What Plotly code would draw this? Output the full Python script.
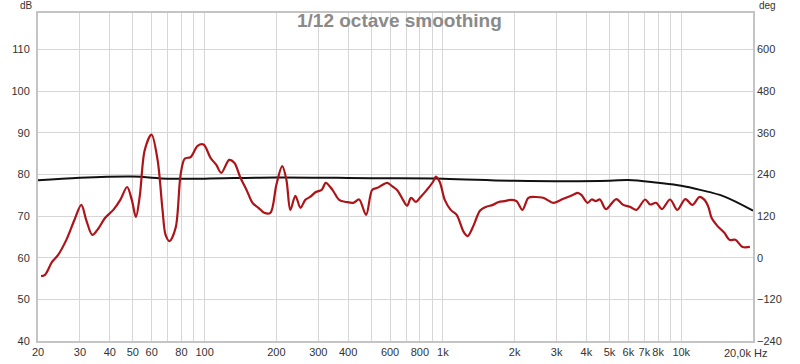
import plotly.graph_objects as go

# Red magnitude curve (Hz, dB)
freq_mag = [20.6, 21.4, 22.9, 24.3, 26.3, 28.4, 30.4, 31.9, 33.8, 35.5, 38.3, 41.4, 44.3, 47.3,
            49.5, 51.5, 53.5, 56.1, 59.9, 63.5, 66.6, 68.6, 71.3, 75.6, 79.3, 82.5, 87.4, 93.5,
            99, 105.9, 112, 117.5, 126.9, 133.3, 141.4, 150, 158.9, 168.3, 177.9, 188.9, 200,
            211.7, 220.5, 229, 240.5, 252.5, 264.6, 277, 293, 310, 322.6, 344, 367, 393, 421,
            445, 476, 505, 531, 557, 584, 612, 642, 680, 708, 735, 771, 801, 856, 908, 934, 970,
            1018, 1078, 1142, 1222, 1270, 1348, 1430, 1514, 1619, 1715, 1816, 1923, 2036, 2156,
            2284, 2441, 2633, 2918, 3183, 3508, 3682, 3810, 4046, 4210, 4380, 4558, 4830, 5335,
            5712, 6117, 6490, 7050, 7400, 7840, 8300, 8975, 9630, 10400, 11140, 11920, 12520,
            13000, 13400, 14200, 15170, 15930, 16880, 18080, 19400]
mag_db = [55.6, 55.9, 59.0, 60.7, 64.3, 69.0, 72.7, 69.0, 65.5, 66.7, 69.6, 71.5, 73.9, 77.0,
          73.9, 69.8, 75.0, 85.9, 89.6, 83.5, 71.5, 65.5, 64.0, 67.2, 79.9, 83.8, 84.2, 86.9,
          87.2, 84.0, 82.3, 80.4, 83.5, 82.8, 79.2, 76.3, 73.2, 72.0, 70.8, 70.8, 77.5,
          82.0, 78.7, 71.5, 74.9, 72.0, 73.9, 74.6, 75.8, 76.3, 78.0, 76.3, 73.9, 73.4, 73.2,
          74.0, 70.3, 76.3, 76.8, 77.5, 78.0, 77.2, 76.3, 73.9, 72.5, 74.4, 73.4, 74.4, 76.3,
          78.2, 79.5, 78.2, 73.9, 71.5, 70.3, 66.2, 65.2, 67.9, 71.3, 72.2, 72.7, 73.4, 73.6,
          73.9, 73.6, 71.5, 74.4, 74.6, 74.4, 73.2, 74.1, 75.1, 75.6, 75.1, 73.2, 74.0, 73.6,
          74.0, 71.7, 74.1, 72.7, 72.2, 71.5, 74.0, 72.8, 73.2, 71.7, 74.0, 71.5, 74.1, 72.7,
          74.6, 73.9, 72.2, 69.6, 67.6, 66.0, 64.3, 64.3, 62.6, 62.6]

# Black curve (Hz, dB)
freq_ref = [20, 30, 50, 70, 100, 200, 500, 1000, 2000, 5000, 6000, 8000, 10000, 12000,
            15000, 20000]
ref_db = [78.6, 79.2, 79.5, 79.0, 79.0, 79.3, 79.1, 79.0, 78.5, 78.5, 78.7, 78.0, 77.3, 76.3,
          74.8, 71.3]

# Axis ticks
x_grid = [20, 30, 40, 50, 60, 70, 80, 90, 100, 200, 300, 400, 500, 600, 700, 800, 900,
          1000, 2000, 3000, 4000, 5000, 6000, 7000, 8000, 9000, 10000, 20000]
x_labels = ["20", "30", "40", "50", "60", "", "80", "", "100", "200", "300", "400", "",
            "600", "", "800", "", "1k", "2k", "3k", "4k", "5k", "6k", "7k", "8k", "", "10k",
            ""]
x_end_label = "20,0k Hz"
db_ticks = [40, 50, 60, 70, 80, 90, 100, 110]
deg_ticks = [-240, -120, 0, 120, 240, 360, 480, 600]

db_range = [40, 118.8]
deg_range = [(db_range[0] - 60) * 12, (db_range[1] - 60) * 12]

fig = go.Figure()
fig.add_trace(go.Scatter(x=freq_ref, y=ref_db, mode="lines",
                         line=dict(color="#111111", width=2, shape="spline"),
                         showlegend=False))
fig.add_trace(go.Scatter(x=freq_mag, y=mag_db, mode="lines",
                         line=dict(color="#ad1419", width=2.2, shape="spline", smoothing=0.9),
                         showlegend=False))
fig.add_trace(go.Scatter(x=[20], y=[0], yaxis="y2", mode="markers",
                         marker=dict(opacity=0), showlegend=False, hoverinfo="skip"))

axis_font = dict(family="Liberation Sans, Arial, sans-serif", size=11, color="#333333")

fig.update_layout(
    width=800, height=364,
    margin=dict(l=38, r=47, t=13, b=23, pad=0, autoexpand=False),
    paper_bgcolor="white", plot_bgcolor="white",
    font=axis_font,
    xaxis=dict(type="log", range=[1.30103, 4.30103], tickvals=x_grid, ticktext=x_labels,
               tickangle=0, automargin=False,
               showgrid=True, gridcolor="#d6d6d6", gridwidth=1,
               showline=True, linecolor="#c4c4c4", linewidth=2, mirror=True,
               ticks="", ticklen=0, tickfont=axis_font, zeroline=False),
    yaxis=dict(range=db_range, tickvals=db_ticks, showgrid=True, gridcolor="#d6d6d6",
               gridwidth=1, showline=True, linecolor="#c4c4c4", linewidth=2, mirror=True,
               ticks="", tickfont=axis_font, zeroline=False, ticklabelstandoff=4,
               automargin=False),
    yaxis2=dict(range=deg_range, tickvals=deg_ticks, overlaying="y", side="right",
                showgrid=False, showline=False, ticks="", tickfont=axis_font,
                zeroline=False, ticklabelstandoff=3, automargin=False),
    annotations=[
        dict(text="<b>1/12 octave smoothing</b>", xref="paper", yref="paper", x=0.505,
             y=0.976, xanchor="center", yanchor="middle", showarrow=False,
             font=dict(family="Liberation Sans, Arial, sans-serif", size=19,
                       color="#8a8a8a")),
        dict(text="dB", xref="paper", yref="paper", x=0, y=1, xshift=-3, yshift=8,
             xanchor="right", yanchor="middle", showarrow=False,
             font=dict(family="Liberation Sans, Arial, sans-serif", size=10,
                       color="#333333")),
        dict(text="deg", xref="paper", yref="paper", x=1, y=1, xshift=4, yshift=8,
             xanchor="left", yanchor="middle", showarrow=False,
             font=dict(family="Liberation Sans, Arial, sans-serif", size=10,
                       color="#333333")),
        dict(text=x_end_label, xref="paper", yref="paper", x=1, y=0, xshift=16,
             yshift=-12, xanchor="right", yanchor="middle", showarrow=False,
             font=axis_font),
    ],
)

fig.write_html("out.html")
